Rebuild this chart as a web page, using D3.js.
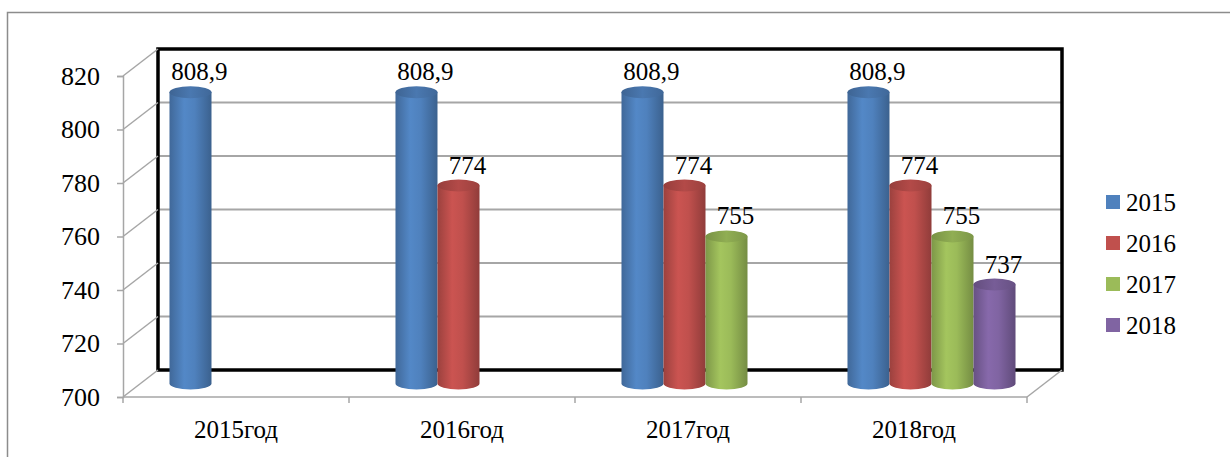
<!DOCTYPE html>
<html>
<head>
<meta charset="utf-8">
<script src="https://cdn.jsdelivr.net/npm/d3@7"></script>
<style>
  body { margin: 0; background: #fff; }
</style>
</head>
<body>
<div id="chart"></div>
<script>
// data
const categories = ["2015год", "2016год", "2017год", "2018год"];
const seriesNames = ["2015", "2016", "2017", "2018"];
const v2015 = [808.9, 808.9, 808.9, 808.9];
const v2016 = [null, 774, 774, 774];
const v2017 = [null, null, 755, 755];
const v2018 = [null, null, null, 737];
const yTicks = [700, 720, 740, 760, 780, 800, 820];
const colors = ["#4F81BD", "#C0504D", "#9BBB59", "#8064A2"];

const allSeries = [v2015, v2016, v2017, v2018];
const serif = "'Liberation Serif', 'Times New Roman', serif";

var width = 1230, height = 457;
// front plane of the 3d box
var plot = { left: 123, right: 1027, top: 76, bottom: 397 };
// depth offset of the back wall
var depth = { dx: 35, dy: -27 };

var svg = d3.select("#chart")
    .append("svg")
    .attr("width", width)
    .attr("height", height);

// outer frame
svg.append("rect")
    .attr("x", 7.5).attr("y", 12.5)
    .attr("width", 1240).attr("height", 460)
    .attr("fill", "none")
    .attr("stroke", "#8c8c8c")
    .attr("stroke-width", 1.5);

const x = d3.scaleBand()
    .domain(categories)
    .range([plot.left, plot.right])
    .padding(0);

const xs = d3.scaleBand()
    .domain(seriesNames)
    .range([0, x.bandwidth()])
    .paddingInner(0)
    .paddingOuter(0.69);

const y = d3.scaleLinear()
    .domain([700, 820])
    .range([plot.bottom, plot.top]);

// back wall gridlines
const back = svg.append("g").attr("transform", `translate(${depth.dx},${depth.dy})`);
back.selectAll("line.grid")
    .data(yTicks)
    .join("line")
    .attr("x1", plot.left).attr("x2", plot.right)
    .attr("y1", d => y(d)).attr("y2", d => y(d))
    .attr("stroke", "#a6a6a6")
    .attr("stroke-width", 2);

// side wall diagonals
svg.append("g").selectAll("line")
    .data(yTicks)
    .join("line")
    .attr("x1", plot.left).attr("y1", d => y(d))
    .attr("x2", plot.left + depth.dx).attr("y2", d => y(d) + depth.dy)
    .attr("stroke", "#a6a6a6")
    .attr("stroke-width", 1.5);

// floor right diagonal
svg.append("line")
    .attr("x1", plot.right).attr("y1", plot.bottom)
    .attr("x2", plot.right + depth.dx).attr("y2", plot.bottom + depth.dy)
    .attr("stroke", "#a6a6a6")
    .attr("stroke-width", 1.5);

// back wall border
back.append("rect")
    .attr("x", plot.left).attr("y", plot.top)
    .attr("width", plot.right - plot.left)
    .attr("height", plot.bottom - plot.top)
    .attr("fill", "none")
    .attr("stroke", "#000")
    .attr("stroke-width", 3.5);

// left axis
const yAxis = svg.append("g")
    .attr("transform", `translate(${plot.left},0)`)
    .call(d3.axisLeft(y).tickValues(yTicks).tickSize(6).tickPadding(17));
yAxis.select(".domain").attr("stroke", "#a6a6a6").attr("stroke-width", 1.5);
yAxis.selectAll(".tick line").attr("stroke", "#a6a6a6").attr("stroke-width", 1.5);
yAxis.selectAll(".tick text")
    .attr("fill", "#000")
    .style("font-family", serif)
    .style("font-size", "26px");

// bottom axis
svg.append("line")
    .attr("x1", plot.left).attr("x2", plot.right)
    .attr("y1", plot.bottom).attr("y2", plot.bottom)
    .attr("stroke", "#a6a6a6").attr("stroke-width", 1.5);
const bounds = categories.map(c => x(c)).concat([plot.right]);
svg.append("g").selectAll("line")
    .data(bounds)
    .join("line")
    .attr("x1", d => d).attr("x2", d => d)
    .attr("y1", plot.bottom).attr("y2", plot.bottom + 6)
    .attr("stroke", "#a6a6a6").attr("stroke-width", 1.5);
svg.append("g").selectAll("text")
    .data(categories)
    .join("text")
    .attr("x", d => x(d) + x.bandwidth() / 2)
    .attr("y", 438)
    .attr("text-anchor", "middle")
    .style("font-family", serif)
    .style("font-size", "25px")
    .text(d => d);

// gradients
const defs = svg.append("defs");
colors.forEach(function (c, i) {
    const g = defs.append("linearGradient").attr("id", "body" + i)
        .attr("x1", "0%").attr("x2", "100%").attr("y1", "0%").attr("y2", "0%");
    const base = d3.color(c);
    g.append("stop").attr("offset", "0%").attr("stop-color", base.darker(0.6));
    g.append("stop").attr("offset", "35%").attr("stop-color", base.brighter(0.15));
    g.append("stop").attr("offset", "60%").attr("stop-color", base);
    g.append("stop").attr("offset", "100%").attr("stop-color", base.darker(0.8));
    const t = defs.append("linearGradient").attr("id", "top" + i)
        .attr("x1", "0%").attr("x2", "100%").attr("y1", "0%").attr("y2", "0%");
    t.append("stop").attr("offset", "0%").attr("stop-color", base.darker(0.7));
    t.append("stop").attr("offset", "50%").attr("stop-color", base.darker(0.2));
    t.append("stop").attr("offset", "100%").attr("stop-color", base.darker(0.6));
});

// bars (cylinders) at half depth
const mid = svg.append("g").attr("transform", `translate(${depth.dx / 2},${depth.dy / 2})`);
const ry = 6;
const bars = [];
allSeries.forEach(function (vals, si) {
    vals.forEach(function (v, ci) {
        if (v != null) bars.push({ cat: categories[ci], s: seriesNames[si], si: si, v: v });
    });
});

const barG = mid.selectAll("g.bar")
    .data(bars)
    .join("g")
    .attr("class", "bar");

barG.append("path")
    .attr("d", function (d) {
        const x0 = x(d.cat) + xs(d.s), w = xs.bandwidth();
        const yt = y(d.v), yb = y(700);
        return `M${x0},${yt} L${x0},${yb} A${w / 2},${ry} 0 0 0 ${x0 + w},${yb} L${x0 + w},${yt} Z`;
    })
    .attr("fill", d => `url(#body${d.si})`);

barG.append("ellipse")
    .attr("cx", d => x(d.cat) + xs(d.s) + xs.bandwidth() / 2)
    .attr("cy", d => y(d.v))
    .attr("rx", xs.bandwidth() / 2)
    .attr("ry", ry)
    .attr("fill", d => `url(#top${d.si})`);

// value labels
mid.selectAll("text.lbl")
    .data(bars)
    .join("text")
    .attr("class", "lbl")
    .attr("x", d => x(d.cat) + xs(d.s) + xs.bandwidth() / 2 + 9)
    .attr("y", d => y(d.v) - 12)
    .attr("text-anchor", "middle")
    .style("font-family", serif)
    .style("font-size", "25px")
    .text(d => String(d.v).replace(".", ","));

// legend
const legend = svg.append("g").attr("transform", "translate(1106,202)");
const li = legend.selectAll("g")
    .data(seriesNames)
    .join("g")
    .attr("transform", (d, i) => `translate(0,${i * 41})`);
li.append("rect")
    .attr("x", 0).attr("y", -7)
    .attr("width", 14).attr("height", 14)
    .attr("fill", (d, i) => colors[i]);
li.append("text")
    .attr("x", 20).attr("y", 9)
    .style("font-family", serif)
    .style("font-size", "25px")
    .text(d => d);
</script>
</body>
</html>
